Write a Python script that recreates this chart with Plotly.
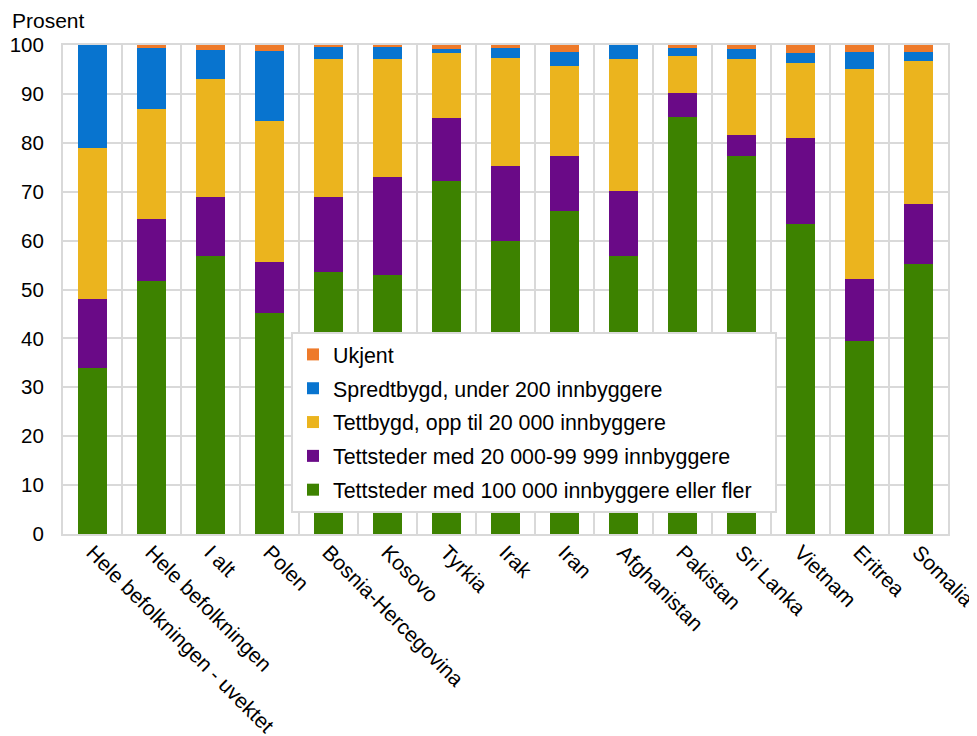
import plotly.graph_objects as go

categories = ["Hele befolkningen - uvektet", "Hele befolkningen", "I alt", "Polen",
              "Bosnia-Hercegovina", "Kosovo", "Tyrkia", "Irak", "Iran", "Afghanistan",
              "Pakistan", "Sri Lanka", "Vietnam", "Eritrea", "Somalia"]

storby = [34.0, 51.8, 56.9, 45.1, 53.5, 52.9, 72.2, 59.9, 66.1, 56.9, 85.2, 77.2, 63.3, 39.5, 55.2]
mellomby = [14.0, 12.6, 12.0, 10.5, 15.5, 20.1, 12.9, 15.4, 11.1, 13.3, 5.0, 4.4, 17.7, 12.6, 12.3]
tettbygd = [30.9, 22.5, 24.1, 28.9, 28.1, 24.2, 13.2, 22.1, 18.6, 27.0, 7.6, 15.5, 15.3, 43.0, 29.2]
spredtbygd = [21.1, 12.5, 6.0, 14.3, 2.4, 2.3, 0.8, 1.9, 2.8, 2.8, 1.5, 2.1, 2.1, 3.5, 1.9]
ukjent = [0.0, 0.6, 1.0, 1.2, 0.5, 0.5, 0.9, 0.7, 1.4, 0.0, 0.7, 0.8, 1.6, 1.4, 1.4]

series_names = ["Tettsteder med 100 000 innbyggere eller fler",
                "Tettsteder med 20 000-99 999 innbyggere",
                "Tettbygd, opp til 20 000 innbyggere",
                "Spredtbygd, under 200 innbyggere",
                "Ukjent"]
series_values = [storby, mellomby, tettbygd, spredtbygd, ukjent]
colors = ["#3d8200", "#6a0a87", "#ebb41e", "#0874cf", "#ee7a2a"]

FONT = "Liberation Sans, Arial, sans-serif"
# page body has an 8px margin, so the figure is drawn 8px smaller and offset
OFF = 8
W, H = 977 - OFF, 736 - OFF
ML, MT = 63 - OFF, 45 - OFF
PW, PH = 885, 489
MR, MB = W - ML - PW, H - MT - PH

fig = go.Figure()
n = len(series_names)
for i, (name, vals, col) in enumerate(zip(series_names, series_values, colors)):
    label = name + ("\u00a0\u00a0\u00a0" if i == 0 else "")
    fig.add_trace(go.Bar(x=categories, y=vals, name=label, marker_color=col,
                         marker_line_width=0, legendgroup="g%d" % i,
                         legendrank=n - i))

fig.update_layout(
    width=W, height=H,
    margin=dict(l=ML, r=MR, t=MT, b=MB, pad=0, autoexpand=False),
    barmode="stack", bargap=0.5,
    plot_bgcolor="white", paper_bgcolor="white",
    font=dict(family=FONT, size=21, color="#000000"),
    legend=dict(x=(291 - 63) / PW, y=(534 - 332) / PH, xanchor="left", yanchor="top",
                traceorder="grouped", bgcolor="white", bordercolor="#d9d9d9",
                borderwidth=2, font=dict(family=FONT, size=21.4, color="#000000"),
                tracegroupgap=3, itemwidth=30),
    xaxis=dict(type="category", tickson="boundaries", showgrid=True, gridcolor="#d9d9d9",
               gridwidth=2, showline=True, linecolor="#d9d9d9", linewidth=2, mirror=True,
               tickangle=45, ticks="", automargin=False, ticklabelstandoff=-4,
               tickfont=dict(family=FONT, size=21, color="#000000"), zeroline=False),
    yaxis=dict(range=[0, 100], dtick=10, showgrid=True, gridcolor="#d9d9d9", gridwidth=2,
               showline=True, linecolor="#d9d9d9", linewidth=2, mirror=True, ticks="",
               ticklabelstandoff=13, zeroline=False, automargin=False,
               tickfont=dict(family=FONT, size=20.5, color="#000000")),
    annotations=[dict(text="Prosent", xref="paper", yref="paper",
                      x=(10 - 63) / PW, y=(534 - 20) / PH, xanchor="left", yanchor="middle",
                      showarrow=False, font=dict(family=FONT, size=21, color="#000000"))],
)

fig.write_html("out.html")
